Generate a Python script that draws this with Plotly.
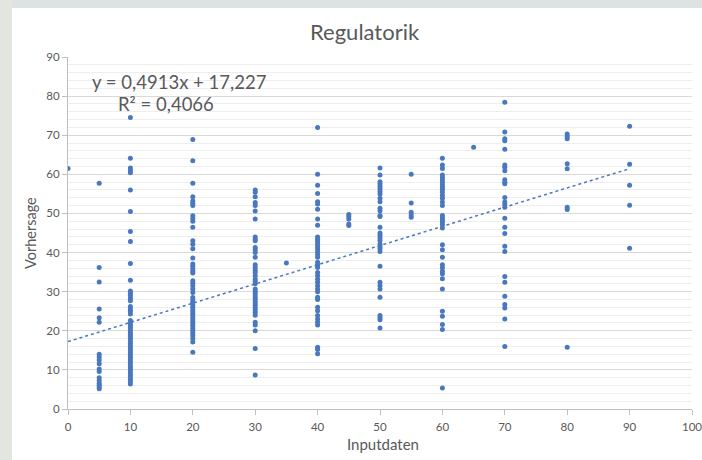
import plotly.graph_objects as go

# Forecast values ("Vorhersage") grouped by input level ("Inputdaten")
input_levels = [0, 5, 10, 20, 30, 35, 40, 45, 50, 55, 60, 65, 70, 80, 90]

vorhersage_0 = [61.5]
vorhersage_5 = [57.7, 36.2, 32.5, 25.6, 23.3, 22.2, 14.0, 13.3, 12.5, 11.6, 10.2, 9.6,
                8.0, 7.3, 6.6, 6.1, 5.6, 5.2]
vorhersage_10 = [74.5, 64.1, 61.6, 61.0, 60.4, 56.0, 50.5, 45.4, 42.8, 37.2, 32.9, 30.2,
                 29.6, 29.0, 28.3, 27.7, 26.2, 25.6, 25.0, 24.3, 22.6, 22.0, 21.4, 20.9,
                 20.3, 19.7, 19.1, 18.6, 18.0, 17.4, 16.8, 16.2, 15.6, 15.0, 14.4, 13.8,
                 13.2, 12.6, 12.0, 11.3, 10.7, 10.1, 9.5, 8.9, 8.3, 7.6, 7.0, 6.4]
vorhersage_20 = [68.9, 63.5, 57.7, 54.3, 53.2, 52.6, 52.0, 49.4, 48.7, 48.0, 46.5, 43.0,
                 42.1, 41.0, 38.6, 37.1, 36.5, 35.8, 35.2, 34.8, 32.8, 32.2, 31.5, 30.7,
                 29.8, 28.5, 27.9, 27.3, 26.6, 26.0, 25.4, 24.8, 24.2, 23.6, 23.0, 22.4,
                 21.8, 21.2, 20.6, 20.0, 19.4, 18.8, 18.0, 17.1, 14.5]
vorhersage_30 = [56.0, 55.4, 54.3, 52.8, 52.0, 50.6, 48.6, 44.0, 43.4, 43.0, 41.3, 40.7,
                 40.0, 38.8, 36.9, 36.2, 35.5, 34.9, 34.1, 33.2, 32.6, 32.0, 30.7, 30.1,
                 29.5, 28.9, 28.3, 27.7, 27.1, 26.5, 25.9, 25.3, 24.7, 24.0, 22.2, 21.5,
                 20.0, 15.5, 8.7]
vorhersage_35 = [37.3]
vorhersage_40 = [72.0, 60.0, 57.2, 55.1, 53.0, 52.4, 51.1, 48.6, 47.0, 44.0, 43.4, 42.8,
                 42.2, 41.5, 40.9, 40.2, 39.5, 38.8, 37.5, 36.8, 36.2, 34.9, 34.1, 33.2,
                 32.4, 31.5, 30.7, 30.0, 28.6, 28.0, 26.0, 25.1, 23.9, 23.0, 22.2, 21.5,
                 15.8, 15.2, 14.1]
vorhersage_45 = [49.7, 49.2, 48.6, 47.3, 46.9]
vorhersage_50 = [61.6, 59.8, 58.1, 57.5, 56.9, 56.3, 55.6, 55.0, 53.9, 53.0, 51.3, 50.7,
                 49.5, 49.2, 46.5, 45.0, 44.4, 43.7, 43.1, 42.2, 41.5, 41.0, 40.3, 36.5,
                 32.4, 31.6, 30.7, 28.6, 23.9, 23.3, 22.8, 20.7]
vorhersage_55 = [60.0, 52.7, 50.3, 49.6, 49.0]
vorhersage_60 = [64.1, 62.4, 61.5, 59.8, 59.2, 58.6, 58.0, 57.3, 56.7, 56.1, 55.4, 54.6,
                 53.9, 52.9, 52.0, 49.5, 48.9, 48.3, 47.8, 47.1, 46.3, 42.0, 40.7, 38.8,
                 36.9, 36.1, 35.2, 34.6, 33.3, 30.7, 25.0, 23.7, 21.6, 20.3, 5.4]
vorhersage_65 = [66.9]
vorhersage_70 = [78.4, 70.8, 69.1, 68.6, 66.4, 62.4, 61.8, 60.9, 58.6, 58.0, 57.6, 54.1,
                 52.9, 52.3, 51.6, 48.8, 46.5, 44.9, 41.6, 40.3, 33.9, 32.4, 28.8, 26.7,
                 25.8, 23.0, 16.0]
vorhersage_80 = [70.3, 69.7, 69.1, 62.7, 61.4, 51.6, 51.0, 15.8]
vorhersage_90 = [72.3, 62.6, 57.2, 52.1, 41.1]

columns = [vorhersage_0, vorhersage_5, vorhersage_10, vorhersage_20, vorhersage_30,
           vorhersage_35, vorhersage_40, vorhersage_45, vorhersage_50, vorhersage_55,
           vorhersage_60, vorhersage_65, vorhersage_70, vorhersage_80, vorhersage_90]

# Linear trend as stated in the chart
slope = 0.4913
intercept = 17.227
r_squared = 0.4066
trend_x = [0, 90]

x_ticks = [0, 10, 20, 30, 40, 50, 60, 70, 80, 90, 100]
y_ticks = [0, 10, 20, 30, 40, 50, 60, 70, 80, 90]

xs, ys = [], []
for level, vals in zip(input_levels, columns):
    xs.extend([level] * len(vals))
    ys.extend(vals)

blue = "#4a78bf"
grey_text = "#595959"
font_family = "Lato, 'Open Sans', sans-serif"

fig = go.Figure()
fig.add_trace(go.Scatter(
    x=xs, y=ys, mode="markers",
    marker=dict(size=5, color=blue),
    hoverinfo="x+y", showlegend=False,
))
fig.add_trace(go.Scatter(
    x=trend_x, y=[slope * v + intercept for v in trend_x], mode="lines",
    line=dict(color=blue, width=1.5, dash="dot"),
    hoverinfo="skip", showlegend=False,
))

L, R, T, B = 68, 10, 57, 51
W, H = 702, 460
pw, ph = W - L - R, H - T - B


def px(xpix):
    return (xpix - L) / pw


def py(ypix):
    return (H - B - ypix) / ph


fig.update_layout(
    width=W, height=H,
    margin=dict(l=L, r=R, t=T, b=B, pad=0, autoexpand=False),
    paper_bgcolor="white", plot_bgcolor="white",
    font=dict(family=font_family, color=grey_text),
    xaxis=dict(
        range=[0, 100], tickvals=x_ticks, showgrid=False, zeroline=False,
        showline=True, linecolor="#bfbfbf", linewidth=1, automargin=False,
        ticks="outside", ticklen=5, tickcolor="#bfbfbf",
        tickfont=dict(size=11.5, color=grey_text),
        ticklabeloverflow="allow", ticklabelstandoff=2,
    ),
    yaxis=dict(
        range=[0, 90], tickvals=y_ticks, showgrid=True, gridcolor="#d9d9d9",
        zeroline=False, showline=True, linecolor="#bfbfbf", linewidth=1,
        automargin=False,
        ticks="outside", ticklen=5, tickcolor="#bfbfbf",
        tickfont=dict(size=11.5, color=grey_text),
        minor=dict(dtick=2, showgrid=True, gridcolor="#eeeeee", ticks=""),
    ),
    shapes=[
        dict(type="rect", xref="paper", yref="paper",
             x0=px(0), x1=px(12), y0=py(460), y1=py(0),
             fillcolor="#e2e6de", line=dict(width=0), layer="below"),
        dict(type="rect", xref="paper", yref="paper",
             x0=px(12), x1=px(702), y0=py(8), y1=py(0),
             fillcolor="#dde3e3", line=dict(width=0), layer="below"),
    ],
    annotations=[
        dict(text="Regulatorik", x=px(365), y=py(32), xref="paper", yref="paper",
             showarrow=False, font=dict(size=22, color=grey_text),
             xanchor="center", yanchor="middle"),
        dict(text="Inputdaten", x=px(383), y=py(444), xref="paper", yref="paper",
             showarrow=False, font=dict(size=15, color=grey_text),
             xanchor="center", yanchor="middle"),
        dict(text="Vorhersage", x=px(30), y=py(233), xref="paper", yref="paper",
             showarrow=False, font=dict(size=14.5, color=grey_text), textangle=-90,
             xanchor="center", yanchor="middle"),
        dict(text=f"y = {slope:.4f}x + {intercept:.3f}".replace(".", ","),
             x=px(179), y=py(82), xref="paper", yref="paper",
             showarrow=False, font=dict(size=18.5, color=grey_text),
             xanchor="center", yanchor="middle"),
        dict(text=f"R² = {r_squared:.4f}".replace(".", ","),
             x=px(166), y=py(104), xref="paper", yref="paper",
             showarrow=False, font=dict(size=18.5, color=grey_text),
             xanchor="center", yanchor="middle"),
    ],
)

fig.write_html("out.html")
